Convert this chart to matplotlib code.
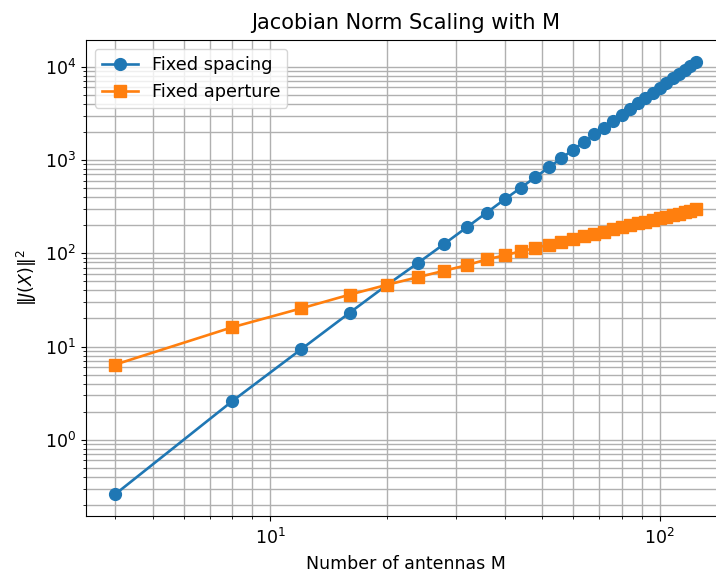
import numpy as np
import matplotlib as mpl
mpl.use('Agg')
import matplotlib.pyplot as plt

#---------------------------------------------------------------------------------------------------
# Data
#---------------------------------------------------------------------------------------------------

M_values = [4, 8, 12, 16, 20, 24, 28, 32, 36, 40, 44, 48, 52, 56, 60, 64,
            68, 72, 76, 80, 84, 88, 92, 96, 100, 104, 108, 112, 116, 120, 124]

fixed_spacing = [0.26, 2.6, 9.3, 23, 46, 79, 126, 190, 273, 378, 503, 655, 835, 1045, 1290, 1565,
                 1880, 2230, 2625, 3060, 3540, 4070, 4650, 5280, 5970, 6710, 7510, 8380, 9300, 10300, 11350]

fixed_aperture = [6.4, 16.1, 25.6, 36, 46, 55.5, 65, 74.5, 86, 95, 105, 114, 124, 133, 142.5, 152,
                  161.5, 171, 180.5, 190, 199.5, 209, 218.5, 228, 237.5, 247, 256.5, 266, 275.5, 285, 295]

series_labels = ['Fixed spacing', 'Fixed aperture']

#---------------------------------------------------------------------------------------------------
# Plot
#---------------------------------------------------------------------------------------------------

mpl.rcParams['font.size'] = 12.5

fig = plt.figure(figsize=(7.16, 5.72), dpi=100)
ax = fig.add_axes((86/716, 56/572, 639/716, 476/572))

ax.loglog(M_values, fixed_spacing, marker='o', markersize=8.5, linewidth=1.9, label=series_labels[0])
ax.loglog(M_values, fixed_aperture, marker='s', markersize=8.5, linewidth=1.9, label=series_labels[1])

ax.grid(True, which='both', linewidth=1.0)
ax.tick_params(axis='x', which='major', pad=5)
ax.set_xlabel('Number of antennas M', labelpad=5)
ax.set_ylabel(r'$\|J(X)\|^2$')
ax.set_title('Jacobian Norm Scaling with M', fontsize=15, pad=8)
ax.legend(loc='upper left', fontsize=12.8)

fig.savefig('out.png', dpi=100)
